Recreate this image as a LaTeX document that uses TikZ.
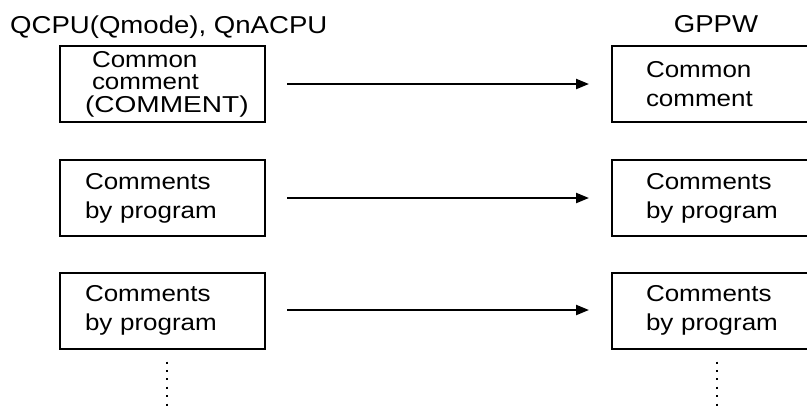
\documentclass[tikz,border=0pt]{standalone}
\usepackage{fontspec}
\setmainfont{Liberation Sans}[FakeStretch=1.13]
\usetikzlibrary{arrows.meta}
\begin{document}
\begin{tikzpicture}[x=1pt,y=-1pt,
  box/.style={draw, line width=2pt, minimum height=76pt, inner sep=0pt, align=left, font=\fontsize{23}{29}\selectfont},
  lbox/.style={box, minimum width=205pt, text width=155pt},
  rbox/.style={box, minimum width=205pt, text width=137pt},
  arr/.style={line width=2.2pt, -{Triangle[length=13pt,width=10pt]}, shorten <=21pt, shorten >=22pt},
  dots/.style={line width=2pt, dash pattern=on 2pt off 6.4pt, shorten <=12pt},
  title/.style={font=\fontsize{24.4}{28}\selectfont, inner sep=0pt}]
\clip (0,0) rectangle (807,408);
\node[title, anchor=base west] (t1) at (10,33) {QCPU(Qmode), QnACPU};
\node[title, anchor=base] (t2) at (716,32) {GPPW};
\node[lbox, font=\fontsize{23}{22.5}\selectfont] (L1) at (162.5,84) {\hspace*{7pt}Common\\\hspace*{7pt}comment\\\scalebox{1.08}[1]{(COMMENT)}};
\node[lbox] (L2) at (162.5,198) {Comments\\by program};
\node[lbox] (L3) at (162.5,310.5) {Comments\\by program};
\node[rbox] (R1) at (714.5,84) {Common\\comment};
\node[rbox] (R2) at (714.5,198) {Comments\\by program};
\node[rbox] (R3) at (714.5,310.5) {Comments\\by program};
\draw[arr] (L1) -- (R1);
\draw[arr] (L2) -- (R2);
\draw[arr] (L3.east |- 0,310) -- (R3.west |- 0,310);
\coordinate (ld) at (167,408);
\coordinate (rd) at (717,408);
\draw[dots] (L3.south -| ld) -- (ld);
\draw[dots] (R3.south -| rd) -- (rd);
\end{tikzpicture}
\end{document}
